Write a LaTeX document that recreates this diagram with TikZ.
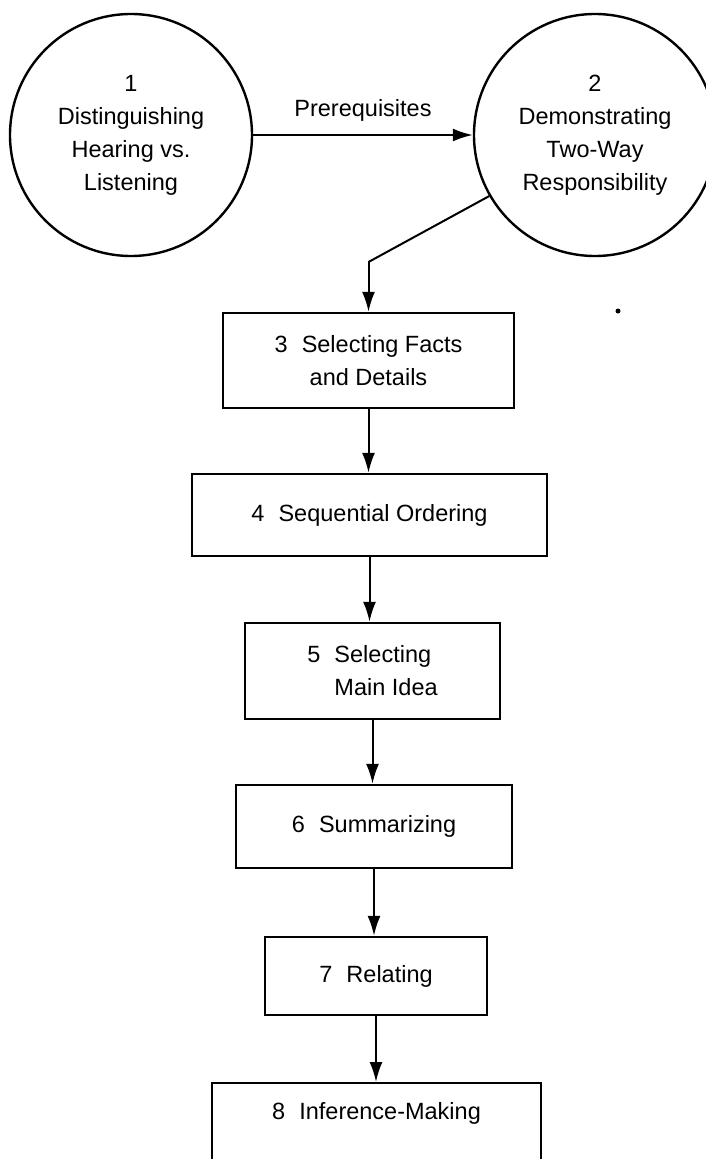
\documentclass[tikz,border=0pt]{standalone}
\usepackage{fontspec}
\setmainfont{Liberation Sans}
\usetikzlibrary{arrows.meta}
\newcommand{\numgap}{\hspace{0.6em}}
\tikzset{
  circnode/.style={draw, circle, line width=2.4pt, minimum size=242pt, inner sep=0pt, align=center},
  boxnode/.style={draw, rectangle, line width=2.4pt, inner sep=0pt, align=center},
  txt/.style={inner sep=0pt, align=center},
  arr/.style={line width=2pt, -{Latex[length=20pt,width=13pt]}},
}
\begin{document}
\begin{tikzpicture}[x=1pt,y=-1pt, font=\fontsize{23.5}{33}\selectfont]
\useasboundingbox (0,0) rectangle (706,1159);
% circles
\node[circnode] (c1) at (131,135) {1\\Distinguishing\\Hearing vs.\\Listening};
\node[circnode] (c2) at (595,135) {2\\Demonstrating\\Two-Way\\Responsibility};
\draw[arr] (c1.east) -- node[txt, midway, yshift=25pt] (pre) {Prerequisites} (c2.west);
% boxes
\node[boxnode, minimum width=291pt, minimum height=95pt] (b3) at (368.5,360.5) {3\numgap Selecting Facts\\and Details};
\node[boxnode, minimum width=355pt, minimum height=82pt] (b4) at (369.5,515) {4\numgap Sequential Ordering};
\node[boxnode, minimum width=255pt, minimum height=96pt, align=left] (b5) at (372.5,671) {5\numgap Selecting\\\phantom{5\numgap}Main Idea};
\node[boxnode, minimum width=276pt, minimum height=83pt] (b6) at (374,826.5) {6\numgap Summarizing};
\node[boxnode, minimum width=222pt, minimum height=78pt] (b7) at (376,976) {7\numgap Relating};
\node[boxnode, minimum width=329pt, minimum height=110pt, anchor=north] (b8) at (376.5,1082) {};
\node[txt] (t8) at ([yshift=-31pt]b8.north) {8\numgap Inference-Making};
% connectors
\coordinate (k) at (368.5,262);
\draw[line width=2pt] (c2.210) -- (k);
\draw[arr] (k) -- (b3.north);
\draw[arr] (b3.south) -- (b3.south |- b4.north);
\draw[arr] (b4.south) -- (b4.south |- b5.north);
\draw[arr] (b5.south) -- (b5.south |- b6.north);
\draw[arr] (b6.south) -- (b6.south |- b7.north);
\draw[arr] (b7.south) -- (b7.south |- b8.north);
% speck
\fill (618,311) circle (2.5pt);
\end{tikzpicture}
\end{document}
